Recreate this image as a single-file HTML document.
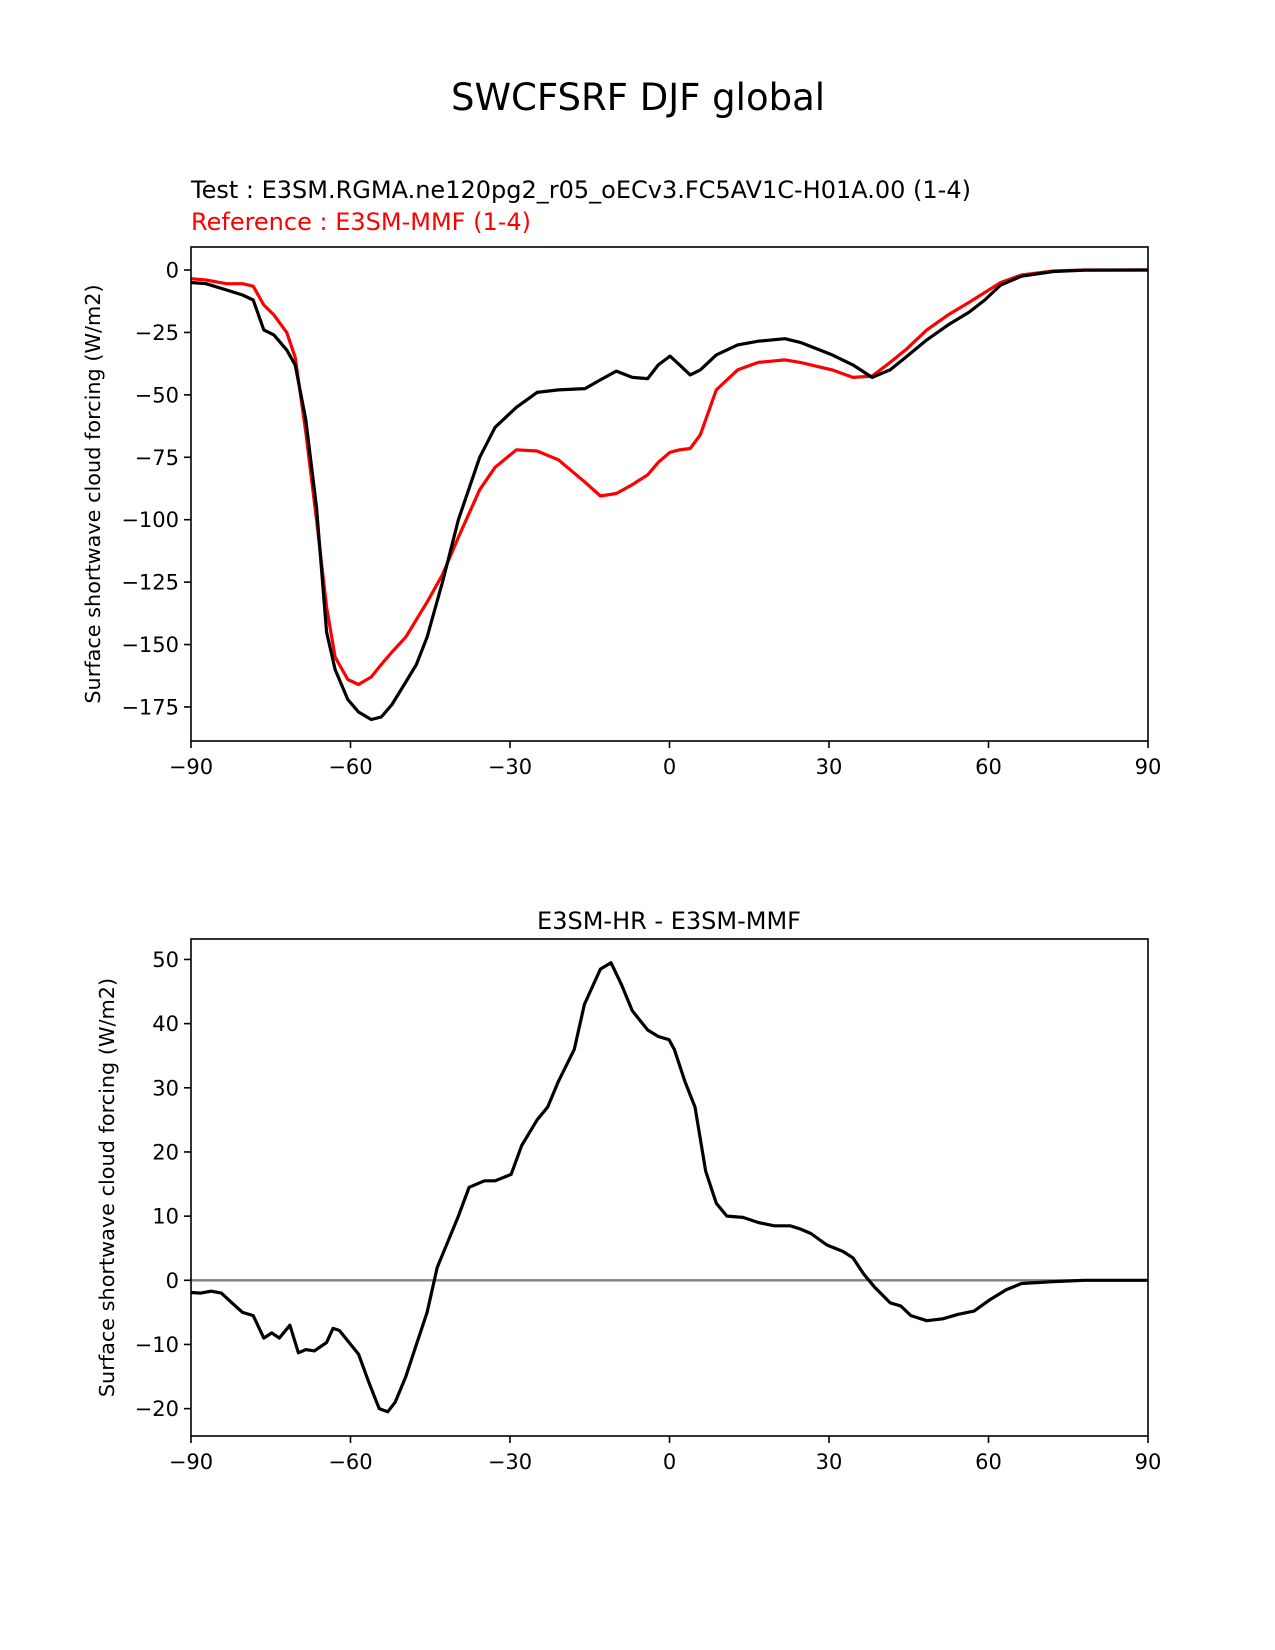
<!DOCTYPE html>
<html><head><meta charset="utf-8"><style>
body{margin:0;background:#fff}
svg{display:block;font-family:"DejaVu Sans","Liberation Sans",sans-serif}
</style></head><body>
<svg id="fig" width="1275" height="1650" viewBox="0 0 1275 1650">
<text x="638" y="110" font-size="37" text-anchor="middle">SWCFSRF DJF global</text>
<text x="191" y="198" font-size="24">Test : E3SM.RGMA.ne120pg2_r05_oECv3.FC5AV1C-H01A.00 (1-4)</text>
<text x="191" y="230" font-size="24" fill="#ff0000">Reference : E3SM-MMF (1-4)</text>
<text x="669" y="929" font-size="24" text-anchor="middle">E3SM-HR - E3SM-MMF</text>
<g id="top"></g>
<g id="bot"></g>
</svg>
<script>
const lats = [-90,-87.2,-83.3,-80.3,-78.3,-76.3,-74.4,-72,-70.4,-68.4,-66.4,-64.5,-62.9,-60.5,-58.5,-56.1,-54.2,-52.2,-49.6,-47.6,-45.6,-42.7,-39.7,-35.7,-32.8,-28.8,-24.9,-20.9,-15.9,-13,-10,-7,-4.1,-2.1,0.1,1.9,3.9,5.8,8.8,12.8,16.7,21.7,24.6,30.6,34.5,38.1,41.5,44.4,48.4,52.4,56.3,59.3,62.3,66.2,72.2,78.1,90];
const testVals = [-5,-5.5,-8,-10,-12,-24,-26,-32,-38,-60,-95,-145,-160,-172,-177,-180,-179,-174,-165,-158,-147,-125,-100,-75,-63,-55,-49,-48,-47.5,-44,-40.5,-43,-43.5,-38,-34.5,-38,-42,-40,-34,-30,-28.5,-27.5,-29,-34,-38,-43,-40,-35,-28,-22,-17,-12,-6,-2.5,-0.6,-0.1,0];
const refVals = [-3.5,-4,-5.5,-5.5,-6.5,-14,-18,-25,-35,-65,-100,-135,-155,-164,-166,-163,-158,-153,-147,-140,-133,-122,-107,-88,-79,-72,-72.5,-76,-85,-90.5,-89.5,-86,-82,-77,-73,-72,-71.5,-66,-48,-40,-37,-36,-37,-40,-43,-42.5,-37,-32,-24,-18,-13,-9,-5,-2,-0.4,0,0];
const diffLats = [-90,-88.2,-86.2,-84.3,-82.3,-80.3,-78.3,-76.3,-74.8,-73.4,-71.4,-69.8,-68.4,-66.8,-64.5,-63.3,-62.1,-58.5,-56.5,-54.6,-53,-51.6,-49.6,-47.6,-45.6,-43.7,-41.7,-39.7,-37.7,-34.8,-32.8,-29.8,-27.8,-24.9,-22.9,-20.9,-17.9,-16,-13,-11,-9,-7,-4.1,-2.1,-0.1,0.9,2.9,4.8,6.8,8.8,10.8,13.8,16.7,19.7,22.7,24.6,26.6,29.6,32.6,34.5,36.5,38.5,41.5,43.5,45.4,48.4,51.4,54.3,57.3,60.3,63.3,66.2,72.2,78.1,90];
const diffVals = [-1.9,-2,-1.7,-2,-3.5,-5,-5.5,-9,-8.2,-9,-7,-11.3,-10.8,-11,-9.7,-7.5,-7.8,-11.5,-16,-20,-20.5,-19,-15,-10,-5,2,6,10,14.5,15.5,15.5,16.5,21,25,27,31,36,43,48.5,49.5,46,42,39,38,37.5,36,31,27,17,12,10,9.8,9,8.5,8.5,8,7.3,5.5,4.5,3.5,1,-1,-3.5,-4,-5.5,-6.3,-6,-5.3,-4.8,-3,-1.5,-0.5,-0.2,0,0];
const xTicks = [-90,-60,-30,0,30,60,90];
const topYTicks = [0,-25,-50,-75,-100,-125,-150,-175];
const botYTicks = [50,40,30,20,10,0,-10,-20];

const NS="http://www.w3.org/2000/svg";
function mk(tag, attrs, parent){const e=document.createElementNS(NS,tag);for(const k in attrs)e.setAttribute(k,attrs[k]);parent.appendChild(e);return e;}
const L=191,R=1148;
const xs = v => L+(v+90)/180*(R-L);
function panel(g, top, bottom, y0, yPer, yTicks, ylabelX, prefix){
  const ys = v => y0 - v*yPer;
  xTicks.forEach(t=>{
    const ln=mk('line',{x1:xs(t),x2:xs(t),y1:bottom,y2:bottom+7,stroke:'#000','stroke-width':1.6},g);
    
    
    const tx=mk('text',{x:xs(t),y:bottom+33,'font-size':21,'text-anchor':'middle'},g);
    tx.textContent = t<0 ? '\u2212'+Math.abs(t) : String(t);
    
    
  });
  yTicks.forEach(t=>{
    const ln=mk('line',{x1:L-7,x2:L,y1:ys(t),y2:ys(t),stroke:'#000','stroke-width':1.6},g);
    
    
    const tx=mk('text',{x:L-12,y:ys(t)+7.5,'font-size':21,'text-anchor':'end'},g);
    tx.textContent = t<0 ? '\u2212'+Math.abs(t) : String(t);
    
    
  });
  const cy=(top+bottom)/2;
  const yl=mk('text',{x:ylabelX,y:cy,'font-size':20.8,'text-anchor':'middle',transform:`rotate(-90 ${ylabelX} ${cy})`},g);
  yl.textContent='Surface shortwave cloud forcing (W/m2)';
  
  
  return ys;
}
function line(g, xArr, yArr, ys, color, w, name){
  const d = xArr.map((x,i)=>(i?'L':'M')+xs(x).toFixed(1)+','+ys(yArr[i]).toFixed(1)).join('');
  const p=mk('path',{d:d,fill:'none',stroke:color,'stroke-width':w,'stroke-linejoin':'round'},g);
  
  
}
function frame(g, top, bottom, prefix){
  const r=mk('rect',{x:L,y:top,width:R-L,height:bottom-top,fill:'none',stroke:'#000','stroke-width':1.6},g);
  
  
}
const gt=document.getElementById('top'), gb=document.getElementById('bot');
const ysT = panel(gt, 247, 741, 270, 2.497, topYTicks, 100, 'top');
line(gt, lats, refVals, ysT, '#ff0000', 3.2, 'reference-line');
line(gt, lats, testVals, ysT, '#000000', 3.2, 'test-line');
frame(gt, 247, 741, 'top');
const ysB = panel(gb, 939, 1436, 1280.3, 6.417, botYTicks, 114, 'bottom');
const z=mk('line',{x1:L,x2:R,y1:ysB(0),y2:ysB(0),stroke:'#808080','stroke-width':2.4},gb);


line(gb, diffLats, diffVals, ysB, '#000000', 3.2, 'difference-line');
frame(gb, 939, 1436, 'bottom');
</script>
</body></html>
